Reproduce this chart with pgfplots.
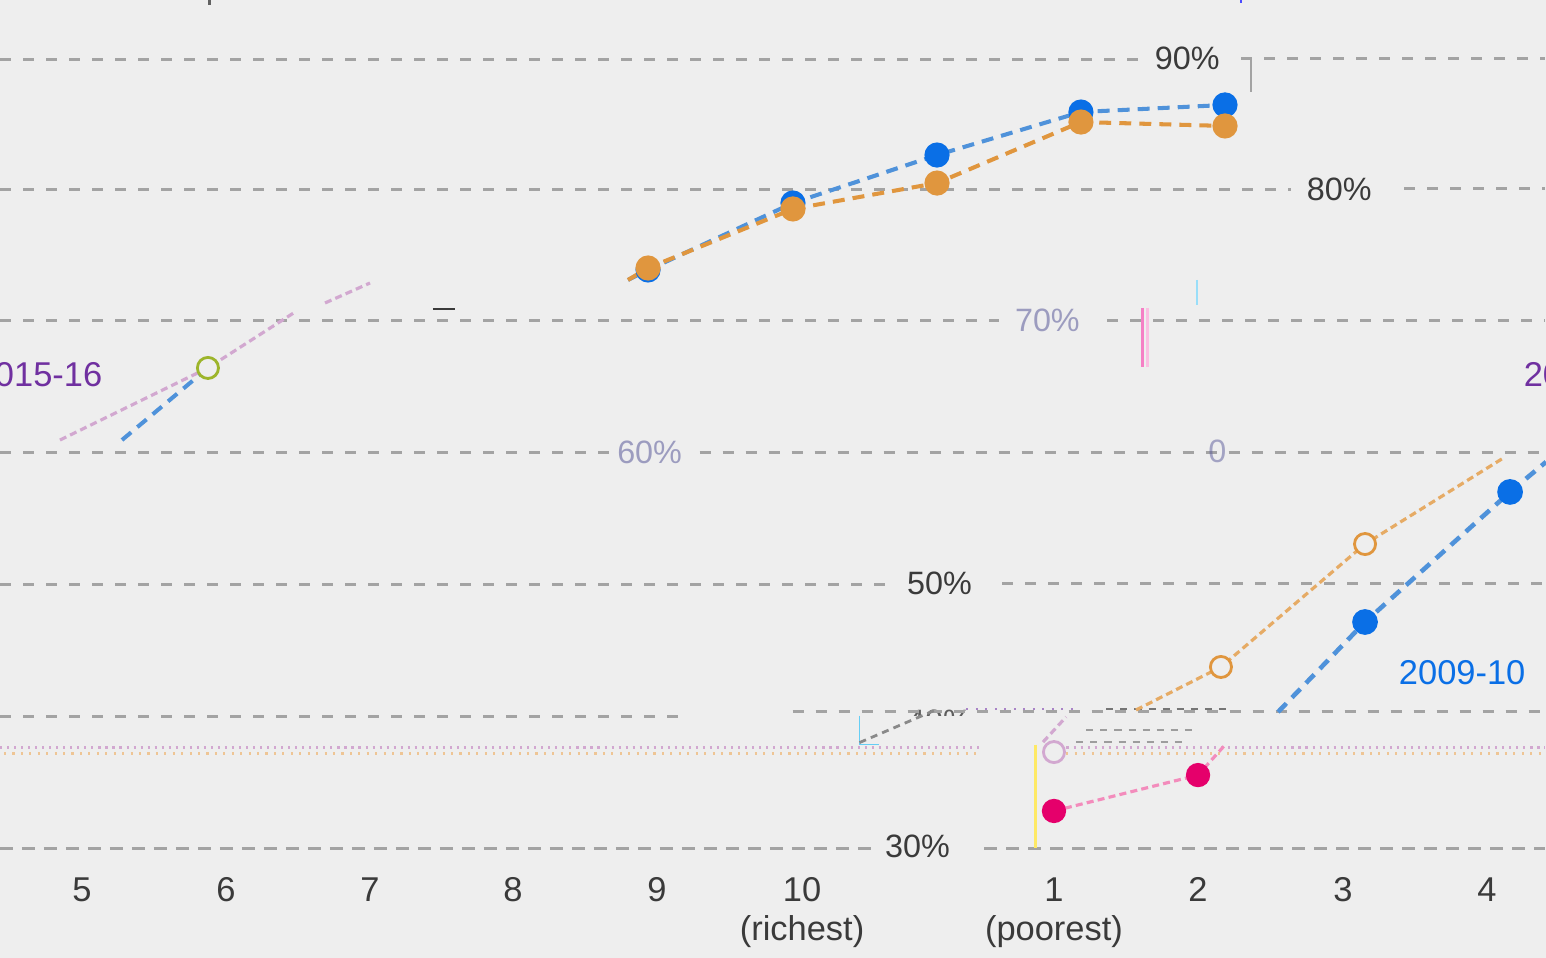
\documentclass[border=0pt]{standalone}
\usepackage{pgfplots}
\pgfplotsset{compat=1.18}
\usepackage{fontspec}
\setmainfont{Liberation Sans}

\definecolor{bg}{HTML}{EEEEEE}
\definecolor{gridc}{HTML}{A3A3A3}
\definecolor{txt}{HTML}{3A3A3A}
\definecolor{blueM}{HTML}{0A6FE6}
\definecolor{blueL}{HTML}{4F92DA}
\definecolor{orng}{HTML}{E0963E}
\definecolor{pinkM}{HTML}{E5006B}
\definecolor{purp}{HTML}{7030A0}
\definecolor{pale}{HTML}{D2A8D0}
\definecolor{garb}{HTML}{5A5A9A}

\newcommand{\lab}{\fontsize{9.2}{11}\selectfont}

\begin{document}
\begin{tikzpicture}
\useasboundingbox (0,0) rectangle (15.46,9.58);
\clip (0,0) rectangle (15.46,9.58);
\fill[bg] (0,0) rectangle (15.46,9.58);

% decorations in pixel units of the reference (y down)
\begin{scope}[x=0.01cm, y=-0.01cm, shift={(0,9.58cm)},
  gl/.style={gridc, line width=0.85pt, dash pattern=on 1.1mm off 1.2mm},
  gt/.style={gridc, line width=0.6pt, dash pattern=on 1.3mm off 0.9mm},
  lb/.style={text=txt, font=\lab, inner sep=0pt}]
  % gridlines with gaps
  \draw[gl] (0,60) -- (1140,60);   \draw[gl] (1242,59) -- (1546,59);
  \draw[gridc, line width=0.6pt] (1252,60) -- (1252,92);
  \draw[gl] (0,190) -- (1292,190); \draw[gl] (1405,189) -- (1546,189);
  \draw[gl] (0,321) -- (1000,321); \draw[gl] (1108,321) -- (1546,321);
  \draw[gl] (0,453) -- (612,453);  \draw[gl] (700,453) -- (1546,453);
  \draw[gl] (0,585) -- (890,585);  \draw[gl] (1003,584) -- (1546,584);
  % labels
  \node[lb] at (1188,58) {90\%};
  \node[lb] at (1340,189) {80\%};
  \node[lb] at (940,584) {50\%};
  \node[lb] at (918,847) {30\%};
  \node[lb, text=garb, opacity=0.55] at (1048,321) {70\%};
  \node[lb, text=garb, opacity=0.55] at (650,453) {60\%};
  \node[lb, text=garb, opacity=0.5] at (1218,452) {0};
  \node[lb, opacity=0.8] at (940,722) {40\%};
  \fill[bg] (895,716) rectangle (990,740);
  \draw[gl] (0,717) -- (682,717);  \draw[gl] (793,712) -- (1546,712);
  \draw[gt] (0,849) -- (880,849);  \draw[gt] (985,849) -- (1546,849);
  % scattered fragments
  \draw[purp!60, line width=0.6pt, dash pattern=on 0.5pt off 2.2pt] (967,709) -- (1080,709);
  \draw[txt!70, line width=0.6pt, dash pattern=on 2pt off 2pt] (1107,709) -- (1230,709);
  \draw[txt!50, line width=0.6pt, dash pattern=on 2pt off 2pt] (1087,730) -- (1198,730);
  \draw[txt!50, line width=0.6pt, dash pattern=on 2pt off 2pt] (1077,742) -- (1187,742);
  \draw[pale, line width=1pt, dash pattern=on 0.6pt off 1.4pt] (0,748) -- (980,748);
  \draw[orng!55, line width=1pt, dash pattern=on 0.6pt off 1.8pt] (4,754) -- (980,754);
  \draw[pale, line width=1pt, dash pattern=on 0.6pt off 1.4pt] (1046,748) -- (1546,748);
  \draw[orng!55, line width=1pt, dash pattern=on 0.6pt off 1.8pt] (1050,754) -- (1546,754);
  \draw[yellow!80!orange!60, line width=0.8pt] (1036,745) -- (1036,848);
  \draw[cyan!60, line width=0.5pt] (860,716) -- (860,745) -- (880,745);
  \draw[magenta!50, line width=0.9pt] (1143,308) -- (1143,367);
  \draw[magenta!25, line width=0.9pt] (1148,308) -- (1148,367);
  \draw[cyan!40, line width=0.5pt] (1198,280) -- (1198,305);
  \draw[txt, line width=0.7pt] (433,309) -- (455,309);
  \draw[txt!80, line width=0.9pt] (210,0) -- (210,5);
  \draw[blue!70, line width=0.6pt] (1242,0) -- (1242,3);
  \draw[txt!60, line width=0.8pt, dash pattern=on 2pt off 1.5pt] (860,743) -- (937,710);
  % series names
  \node[text=purp, font=\fontsize{9.8}{11}\selectfont, inner sep=0pt, anchor=east] at (103,375) {2015-16};
  \node[text=purp, font=\fontsize{9.8}{11}\selectfont, inner sep=0pt, anchor=west] at (1524,375) {2015-16};
  \node[text=blueM, font=\fontsize{9.8}{11}\selectfont, inner sep=0pt] at (1463,673) {2009-10};
\end{scope}

\begin{axis}[at={(0,0)}, anchor=south west, scale only axis,
  width=15.46cm, height=9.58cm,
  xmin=4.431, xmax=15.152, ymin=21.71, ymax=94.56,
  axis line style={draw=none}, major tick length=0pt, ytick=\empty,
  xtick={5,5.998,6.997,7.989,8.987,9.993,11.740,12.739,13.744,14.743},
  xticklabels={5,6,7,8,9,{10\\(richest)},{1\\(poorest)},2,3,4},
  xticklabel style={anchor=north, inner sep=0pt, yshift=0.81cm, align=center,
    font=\fontsize{9.8}{11.1}\selectfont, text=txt},
  clip=true]

% upper pair
\addplot[blueL, line width=1.15pt, dash pattern=on 3.4pt off 2.3pt,
  mark=*, mark size=3pt, mark indices={2,3,4,5,6},
  mark options={solid, fill=blueM, draw=blueM}]
  coordinates {(8.786,73.27) (8.925,74.03) (9.930,79.12) (10.929,82.77) (11.927,86.04) (12.926,86.58)};
\addplot[orng, line width=1.15pt, dash pattern=on 3.4pt off 2.3pt,
  mark=*, mark size=3pt, mark indices={2,3,4,5,6},
  mark options={solid, fill=orng, draw=orng}]
  coordinates {(8.786,73.27) (8.925,74.18) (9.930,78.67) (10.929,80.64) (11.927,85.28) (12.926,84.98)};

% left fragments
\addplot[blueL, line width=1.15pt, dash pattern=on 3.4pt off 2.3pt]
  coordinates {(5.277,61.10) (5.873,66.58)};
\addplot[pale, line width=0.9pt, dash pattern=on 2pt off 1.2pt,
  mark=*, mark size=3pt, mark indices={2},
  mark options={solid, fill=bg, draw=orng!70!green, line width=0.8pt}]
  coordinates {(4.847,61.10) (5.873,66.58) (6.477,70.83)};
\addplot[pale, line width=0.9pt, dash pattern=on 2pt off 1.2pt]
  coordinates {(6.685,71.52) (6.997,73.04)};

% lower series
\addplot[pale, line width=0.9pt, dash pattern=on 2pt off 1.2pt]
  coordinates {(11.664,38.13) (11.824,40.04)};
\addplot[only marks, mark=*, mark size=3pt,
  mark options={fill=bg, draw=pale, line width=0.8pt}]
  coordinates {(11.740,37.37)};
\addplot[orng!80, line width=0.9pt, dash pattern=on 2pt off 1.2pt,
  mark=*, mark size=3pt, mark indices={2,3},
  mark options={solid, fill=bg, draw=orng, line width=0.8pt}]
  coordinates {(12.309,40.57) (12.898,43.84) (13.897,53.19) (14.868,59.81)};
\addplot[pinkM!45, line width=0.9pt, dash pattern=on 2pt off 1.2pt,
  mark=*, mark size=3pt, mark indices={1,2},
  mark options={solid, fill=pinkM, draw=pinkM}]
  coordinates {(11.740,32.89) (12.739,35.62) (12.926,37.91)};
\addplot[blueL, line width=1.3pt, dash pattern=on 3.4pt off 2.3pt,
  mark=*, mark size=3pt, mark indices={2,3},
  mark options={solid, fill=blueM, draw=blueM}]
  coordinates {(13.294,40.42) (13.897,47.26) (14.903,57.15) (15.152,59.43)};
\end{axis}
\end{tikzpicture}
\end{document}
